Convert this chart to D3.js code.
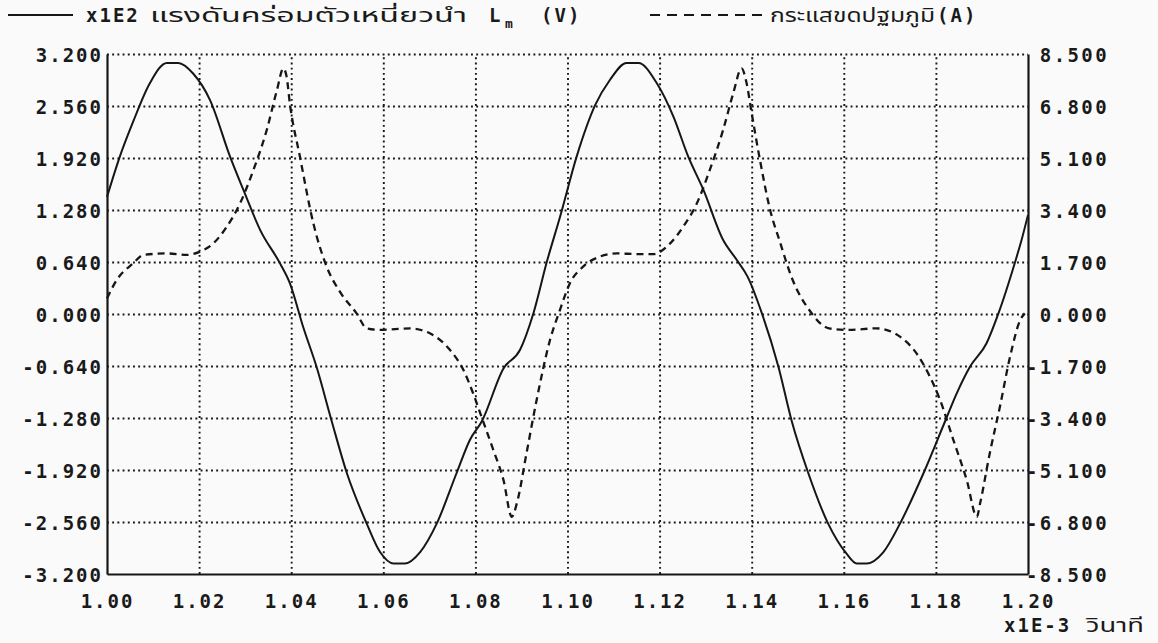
<!DOCTYPE html>
<html>
<head>
<meta charset="utf-8">
<script src="https://cdn.jsdelivr.net/npm/d3@7/dist/d3.min.js"></script>
<style>
  html, body { margin: 0; padding: 0; background: #fafafa; }
  svg { display: block; }
  .num { font-family: "DejaVu Sans Mono", "Liberation Mono", monospace; font-weight: bold; font-size: 19px; letter-spacing: 2px; fill: #1a1a1a; }
  .thai { font-family: "Noto Sans Thai", "Tlwg Typo", "Loma", "Garuda", "DejaVu Sans", "Noto Sans", sans-serif; font-size: 19px; fill: #1a1a1a; }
</style>
</head>
<body>
<svg id="chart" width="1158" height="643"></svg>
<script>
// Time axis (x1E-3 s)
const xTicks = [1.00, 1.02, 1.04, 1.06, 1.08, 1.10, 1.12, 1.14, 1.16, 1.18, 1.20];
const xTickLabels = ["1.00", "1.02", "1.04", "1.06", "1.08", "1.10", "1.12", "1.14", "1.16", "1.18", "1.20"];

// Left axis: voltage across L_m (x1E2 V)
const leftTicks = [3.2, 2.56, 1.92, 1.28, 0.64, 0, -0.64, -1.28, -1.92, -2.56, -3.2];
const leftTickLabels = ["3.200", "2.560", "1.920", "1.280", "0.640", "0.000", "-0.640", "-1.280", "-1.920", "-2.560", "-3.200"];

// Right axis: primary current (A)
const rightTicks = [8.5, 6.8, 5.1, 3.4, 1.7, 0, -1.7, -3.4, -5.1, -6.8, -8.5];
const rightTickLabels = [" 8.500", " 6.800", " 5.100", " 3.400", " 1.700", " 0.000", "-1.700", "-3.400", "-5.100", "-6.800", "-8.500"];

// Voltage across the magnetising inductance (x1E2 V)
const voltageTime = [
  1.0000, 1.0028, 1.0057, 1.0093, 1.0130, 1.0155, 1.0187, 1.0224, 1.0267, 1.0296,
  1.0333, 1.0376, 1.0397, 1.0426, 1.0455, 1.0488, 1.0521, 1.0564, 1.0593, 1.0622,
  1.0647, 1.0680, 1.0716, 1.0759, 1.0788, 1.0814, 1.0861, 1.0897, 1.0926, 1.0955,
  1.0984, 1.1020, 1.1060, 1.1092, 1.1128, 1.1154, 1.1194, 1.1230, 1.1262, 1.1295,
  1.1338, 1.1367, 1.1391, 1.1422, 1.1458, 1.1487, 1.1523, 1.1566, 1.1606, 1.1628,
  1.1650, 1.1686, 1.1722, 1.1773, 1.1820, 1.1845, 1.1874, 1.1910, 1.1936, 1.1972,
  1.1986, 1.2000
];
const voltageValues = [
  1.44, 1.94, 2.37, 2.84, 3.09, 3.09, 2.96, 2.63, 1.94, 1.53,
  1.03, 0.62, 0.38, -0.16, -0.65, -1.32, -1.96, -2.58, -2.93, -3.07,
  -3.07, -2.93, -2.58, -1.96, -1.55, -1.32, -0.67, -0.44, 0.01, 0.64,
  1.20, 1.94, 2.57, 2.88, 3.09, 3.09, 2.84, 2.43, 1.94, 1.53,
  0.91, 0.67, 0.46, 0.01, -0.65, -1.32, -1.96, -2.58, -2.95, -3.07,
  -3.07, -2.93, -2.58, -1.96, -1.32, -0.98, -0.65, -0.36, 0.01, 0.64,
  0.91, 1.22
];

// Primary winding current (A)
const currentTime = [
  1.0000, 1.0021, 1.0057, 1.0079, 1.0130, 1.0173, 1.0202, 1.0231, 1.0260, 1.0289,
  1.0318, 1.0347, 1.0369, 1.0383, 1.0390, 1.0397, 1.0419, 1.0448, 1.0477, 1.0506,
  1.0542, 1.0564, 1.0593, 1.0658, 1.0701, 1.0745, 1.0774, 1.0795, 1.0817, 1.0839,
  1.0861, 1.0879, 1.0890, 1.0911, 1.0933, 1.0962, 1.0984, 1.1005, 1.1034, 1.1071,
  1.1107, 1.1150, 1.1186, 1.1223, 1.1251, 1.1281, 1.1309, 1.1338, 1.1360, 1.1378,
  1.1389, 1.1400, 1.1418, 1.1440, 1.1460, 1.1489, 1.1525, 1.1568, 1.1611, 1.1671,
  1.1722, 1.1758, 1.1787, 1.1809, 1.1838, 1.1867, 1.1889, 1.1896, 1.1917, 1.1939,
  1.1961, 1.1983, 1.1993
];
const currentValues = [
  0.51, 1.11, 1.66, 1.93, 1.98, 1.93, 2.04, 2.31, 2.85, 3.62,
  4.71, 6.02, 7.32, 8.03, 7.76, 6.89, 5.14, 2.97, 1.55, 0.72,
  0.02, -0.47, -0.52, -0.47, -0.63, -1.18, -1.83, -2.59, -3.52, -4.45,
  -5.43, -6.63, -6.19, -4.55, -2.81, -0.85, 0.15, 1.00, 1.55, 1.88,
  1.98, 1.96, 1.96, 2.31, 2.85, 3.62, 4.71, 6.02, 7.22, 8.03,
  7.54, 6.56, 5.03, 3.40, 2.42, 1.11, 0.13, -0.47, -0.52, -0.47,
  -0.74, -1.29, -2.05, -2.81, -4.12, -5.43, -6.63, -6.19, -4.55, -3.03,
  -1.40, -0.20, 0.02
];

const legendVoltage = { prefix: "x1E2", name: "แรงดันคร่อมตัวเหนี่ยวนำ", symbol: "L", sub: "m", unit: "(V)" };
const legendCurrent = { name: "กระแสขดปฐมภูมิ", unit: "(A)" };
const xUnit = { prefix: "x1E-3", name: "วินาที" };

const ink = "#161616";
const svg = d3.select("#chart");
const plotLeft = 107, plotRight = 1028, plotTop = 54, plotBottom = 574;

const x = d3.scaleLinear().domain([1.0, 1.2]).range([plotLeft, plotRight]);
const yL = d3.scaleLinear().domain([-3.2, 3.2]).range([plotBottom, plotTop]);
const yR = d3.scaleLinear().domain([-8.5, 8.5]).range([plotBottom, plotTop]);

// Dotted grid
const gridH = svg.append("g").attr("transform", `translate(${plotLeft},0)`)
  .call(d3.axisLeft(yL).tickValues(leftTicks.filter(d => d !== -3.2)).tickSize(-(plotRight - plotLeft)).tickFormat(""));
gridH.select(".domain").remove();
const gridV = svg.append("g").attr("transform", `translate(0,${plotBottom})`)
  .call(d3.axisBottom(x).tickValues(xTicks.slice(1, -1)).tickSize(-(plotBottom - plotTop)).tickFormat(""));
gridV.select(".domain").remove();
svg.selectAll(".tick line")
  .attr("stroke", ink).attr("stroke-width", 1.9).attr("stroke-dasharray", "1.9,3.3");

// Axes with labels
const axL = svg.append("g").attr("transform", `translate(${plotLeft},0)`)
  .call(d3.axisLeft(yL).tickValues(leftTicks).tickFormat((d, i) => leftTickLabels[i]).tickSize(0).tickSizeOuter(0).tickPadding(5));
const axR = svg.append("g").attr("transform", `translate(${plotRight},0)`)
  .call(d3.axisRight(yR).tickValues(rightTicks).tickFormat((d, i) => rightTickLabels[i]).tickSize(0).tickSizeOuter(0).tickPadding(0));
const axB = svg.append("g").attr("transform", `translate(0,${plotBottom})`)
  .call(d3.axisBottom(x).tickValues(xTicks).tickFormat((d, i) => xTickLabels[i]).tickSize(0).tickSizeOuter(0).tickPadding(21));

[axL, axR, axB].forEach(g => {
  g.attr("font-size", null).attr("font-family", null);
  g.select(".domain").attr("stroke", ink).attr("stroke-width", 2.2);
  g.selectAll("text").attr("class", "num").attr("fill", ink);
});
axL.selectAll("text").attr("dy", "0.42em").attr("x", -4);
axR.selectAll("text").attr("dy", "0.42em").attr("x", -2).attr("text-anchor", "start")
  .style("white-space", "pre").style("letter-spacing", "2.4px");
axB.selectAll("text").attr("dy", "0.71em");

// Curves
const lineV = d3.line().x(d => x(d[0])).y(d => yL(d[1])).curve(d3.curveMonotoneX);
const lineI = d3.line().x(d => x(d[0])).y(d => yR(d[1])).curve(d3.curveMonotoneX);

svg.append("path")
  .attr("d", lineV(voltageTime.map((t, i) => [t, voltageValues[i]])))
  .attr("fill", "none").attr("stroke", ink).attr("stroke-width", 2).attr("stroke-linejoin", "round");
svg.append("path")
  .attr("d", lineI(currentTime.map((t, i) => [t, currentValues[i]])))
  .attr("fill", "none").attr("stroke", ink).attr("stroke-width", 2.3).attr("stroke-dasharray", "7,5");

// Legend
const lg = svg.append("g");
lg.append("line").attr("x1", 8).attr("x2", 73).attr("y1", 15).attr("y2", 15)
  .attr("stroke", ink).attr("stroke-width", 2);
lg.append("text").attr("class", "num").attr("x", 86).attr("y", 22).text(legendVoltage.prefix);
lg.append("text").attr("class", "thai").attr("x", 150).attr("y", 22)
  .attr("textLength", 317).attr("lengthAdjust", "spacingAndGlyphs").text(legendVoltage.name);
lg.append("text").attr("class", "num").attr("x", 489).attr("y", 22).text(legendVoltage.symbol);
lg.append("text").attr("class", "num").attr("x", 505).attr("y", 28).style("font-size", "13px").text(legendVoltage.sub);
lg.append("text").attr("class", "num").attr("x", 541).attr("y", 22).text(legendVoltage.unit);
lg.append("line").attr("x1", 650).attr("x2", 762).attr("y1", 15).attr("y2", 15)
  .attr("stroke", ink).attr("stroke-width", 2).attr("stroke-dasharray", "10,7");
lg.append("text").attr("class", "thai").attr("x", 770).attr("y", 22)
  .attr("textLength", 165).attr("lengthAdjust", "spacingAndGlyphs").text(legendCurrent.name);
lg.append("text").attr("class", "num").attr("x", 937).attr("y", 22).text(legendCurrent.unit);

// Time unit
svg.append("text").attr("class", "num").attr("x", 1004).attr("y", 632).text(xUnit.prefix);
svg.append("text").attr("class", "thai").attr("x", 1086).attr("y", 632).style("font-size", "19px")
  .attr("textLength", 58).attr("lengthAdjust", "spacingAndGlyphs").text(xUnit.name);
</script>
</body>
</html>
